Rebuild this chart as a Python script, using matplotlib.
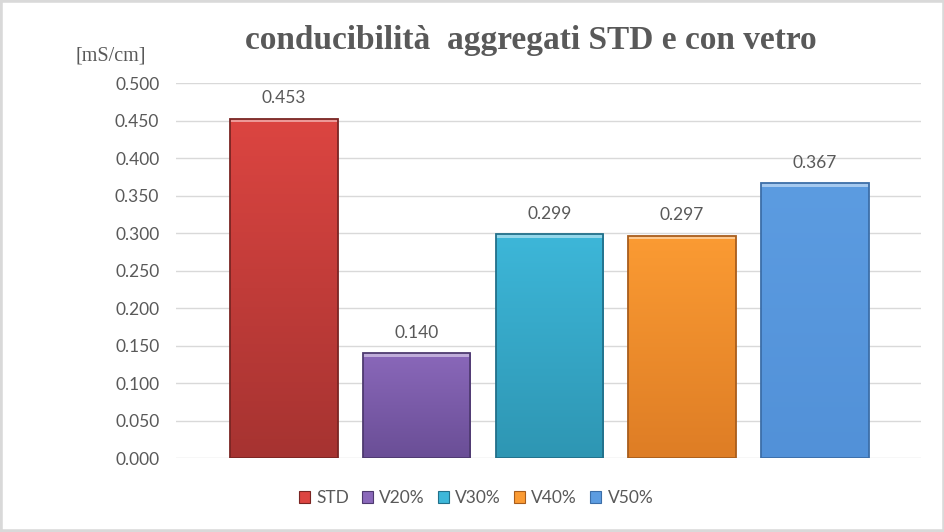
import matplotlib
matplotlib.use("Agg")
import matplotlib.pyplot as plt
import numpy as np
from matplotlib.patches import Patch, Rectangle
from matplotlib.colors import LinearSegmentedColormap, to_rgb

categories = ["STD", "V20%", "V30%", "V40%", "V50%"]
values = [0.453, 0.140, 0.299, 0.297, 0.367]
top_colors = ["#dc4541", "#8a68ba", "#3db7d9", "#fb9b33", "#5c9ce1"]
bottom_colors = ["#a63331", "#6a4e96", "#2e96b3", "#de7d25", "#5291d8"]
edge_colors = ["#7a2523", "#4e3a70", "#22708a", "#a85d1c", "#3c6ea8"]
yticks = [0.0, 0.05, 0.1, 0.15, 0.2, 0.25, 0.3, 0.35, 0.4, 0.45, 0.5]
title = "conducibilità  aggregati STD e con vetro"
ylabel = "[mS/cm]"

txt = "#595959"
fig = plt.figure(figsize=(9.45, 5.32), dpi=100)
ax = fig.add_axes([0.1862, 0.1385, 0.7884, 0.7049])

x = np.arange(len(categories))
width = 0.81
ax.set_xlim(-0.814, 4.80)
ax.set_ylim(0, 0.5)

bars = ax.bar(x, values, width=width, color="none", edgecolor="none", zorder=3)
for b, tc, bc, ec in zip(bars, top_colors, bottom_colors, edge_colors):
    x0, w, h = b.get_x(), b.get_width(), b.get_height()
    cmap = LinearSegmentedColormap.from_list("g", [bc, tc])
    grad = np.linspace(0, 1, 256).reshape(-1, 1)
    im = ax.imshow(grad, cmap=cmap, origin="lower", aspect="auto",
                   extent=[x0, x0 + w, 0, h], zorder=3, interpolation="bicubic")
    im.set_clip_path(b)
    # top bevel highlight
    lt = tuple(min(1, c + 0.45 * (1 - c)) for c in to_rgb(tc))
    dy = 0.005
    ax.add_patch(Rectangle((x0, h - dy), w, dy, facecolor=lt, edgecolor="none", zorder=4))
    ax.add_patch(Rectangle((x0, 0), w, h, facecolor="none", edgecolor=ec, lw=1.3, zorder=5))
    ax.annotate(f"{h:.3f}", (x0 + w / 2, h), xytext=(0, 9), textcoords="offset points",
                ha="center", va="bottom", fontsize=12.5, color=txt, family="Lato")

ax.set_xlim(-0.814, 4.80)
ax.set_ylim(0, 0.5)
ax.set_yticks(yticks)
ax.set_yticklabels([f"{v:.3f}" for v in yticks], fontsize=12.5, color=txt, family="Lato")
ax.set_xticks([])
ax.tick_params(axis="y", length=0, pad=12)
for s in ax.spines.values():
    s.set_visible(False)
ax.grid(axis="y", color="#d9d9d9", lw=1.0, zorder=0)
ax.set_axisbelow(True)

fig.text(531 / 945, 1 - 40 / 532, title, ha="center", va="center", fontsize=24,
         fontweight="bold", color=txt, family="Liberation Serif")
fig.text(111 / 945, 1 - 56 / 532, ylabel, ha="center", va="center", fontsize=14.5,
         color=txt, family="Liberation Serif")

handles = [Patch(facecolor=c, edgecolor=e, lw=0.8) for c, e in zip(top_colors, edge_colors)]
leg = fig.legend(handles, categories, loc="center", bbox_to_anchor=(476 / 945, 1 - 498 / 532),
                 ncol=5, frameon=False, handlelength=0.65, handleheight=0.65,
                 handletextpad=0.35, columnspacing=0.75, prop={"family": "Lato", "size": 12.5})
for t in leg.get_texts():
    t.set_color(txt)

fig.patches.append(Rectangle((0, 0), 1, 1, transform=fig.transFigure, facecolor="none",
                             edgecolor="#d9d9d9", lw=4, zorder=10))
fig.savefig("out.png", dpi=100)
